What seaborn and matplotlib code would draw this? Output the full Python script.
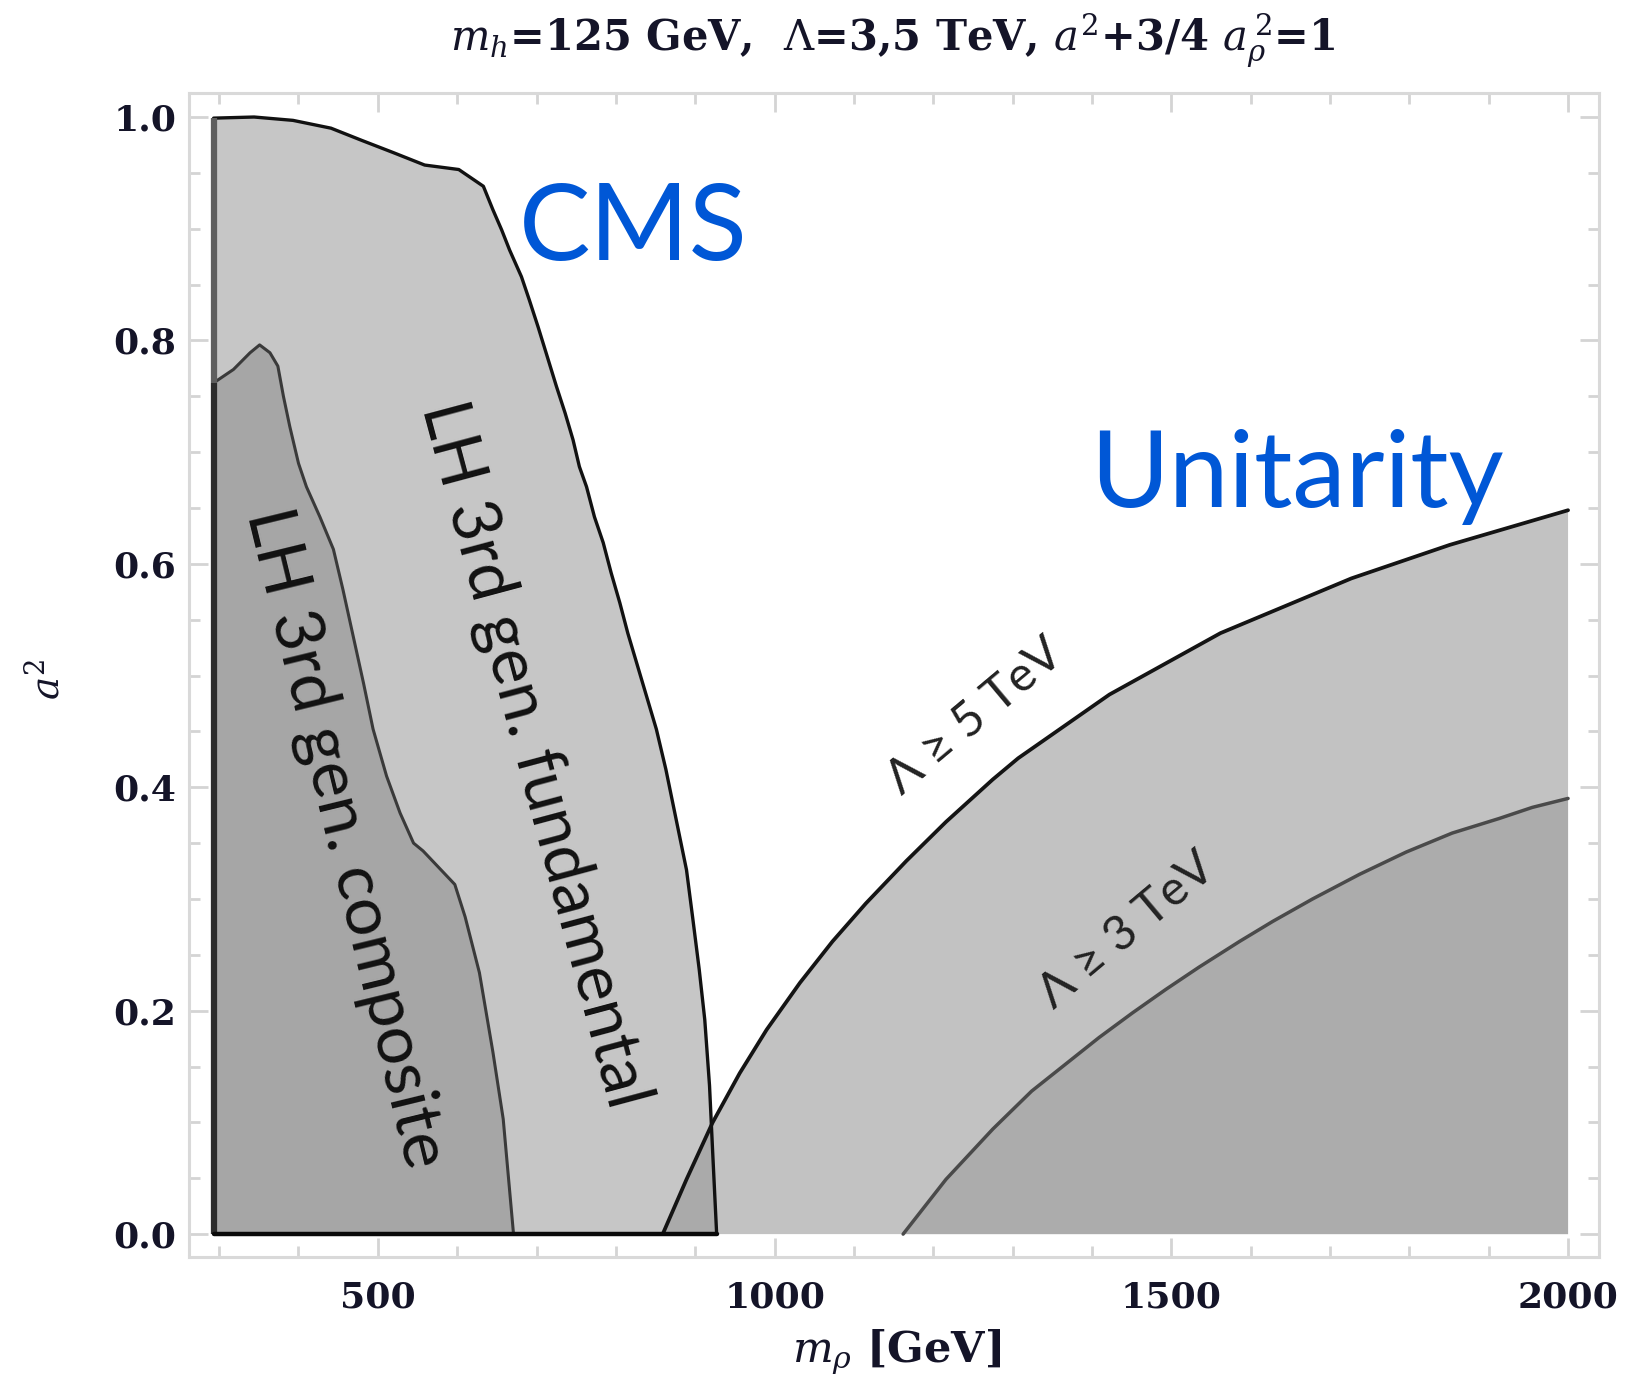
import numpy as np
import matplotlib
matplotlib.use("Agg")
import matplotlib.pyplot as plt
import seaborn as sns

# ---------------- data ----------------
# CMS bound, LH 3rd generation fundamental (outer region)
fund_x = [293, 344, 393, 441, 480, 520, 559, 602, 633, 645, 656, 666, 681, 691,
          702, 712, 725, 736, 746, 754, 763, 773, 784, 794, 805, 815, 851, 863,
          876, 889, 897, 905, 912, 918, 922, 927]
fund_y = [0.999, 1.0, 0.997, 0.990, 0.979, 0.968, 0.957, 0.953, 0.938, 0.917,
          0.899, 0.881, 0.857, 0.836, 0.812, 0.789, 0.759, 0.735, 0.711, 0.687,
          0.669, 0.642, 0.619, 0.592, 0.565, 0.538, 0.452, 0.416, 0.371, 0.326,
          0.282, 0.237, 0.192, 0.133, 0.073, 0.0]

# CMS bound, LH 3rd generation composite (inner region)
comp_x = [293, 318, 339, 351, 364, 374, 381, 389, 400, 410, 427, 444, 456, 469,
          482, 494, 511, 528, 545, 557, 597, 610, 628, 645, 658, 671]
comp_y = [0.762, 0.774, 0.789, 0.796, 0.789, 0.777, 0.750, 0.723, 0.690, 0.669,
          0.642, 0.613, 0.577, 0.535, 0.493, 0.452, 0.410, 0.377, 0.350, 0.343,
          0.313, 0.284, 0.234, 0.163, 0.103, 0.0]

# unitarity bound, Lambda >= 5 TeV
u5_x = [859, 889, 922, 956, 990, 1032, 1073, 1115, 1166, 1216, 1275, 1307, 1422,
        1562, 1727, 1851, 2000]
u5_y = [0.0, 0.049, 0.100, 0.144, 0.183, 0.225, 0.262, 0.296, 0.334, 0.369,
        0.407, 0.426, 0.483, 0.538, 0.587, 0.617, 0.648]

# unitarity bound, Lambda >= 3 TeV
u3_x = [1162, 1216, 1275, 1324, 1409, 1451, 1493, 1535, 1586, 1628, 1678, 1737,
        1796, 1854, 1913, 1955, 2000]
u3_y = [0.0, 0.049, 0.094, 0.128, 0.176, 0.198, 0.219, 0.239, 0.262, 0.280,
        0.300, 0.322, 0.342, 0.359, 0.372, 0.382, 0.390]

x_ticks = [500, 1000, 1500, 2000]
y_ticks = [0.0, 0.2, 0.4, 0.6, 0.8, 1.0]
y_ticklabels = ["0.0", "0.2", "0.4", "0.6", "0.8", "1.0"]

title = r"$m_h$=125 GeV,  $\Lambda$=3,5 TeV, $a^2$+3/4 $a_\rho^{\,2}$=1"
xlabel = r"$m_\rho$ [GeV]"
ylabel = r"$a^2$"

# ---------------- style ----------------
sns.set_theme(style="white")
plt.rcParams["font.family"] = ["DejaVu Serif"]
plt.rcParams["mathtext.fontset"] = "dejavuserif"

W, H = 1626, 1386
fig = plt.figure(figsize=(W / 100, H / 100), dpi=100)
ax = fig.add_axes([189 / W, 1 - 1257 / H, (1599 - 189) / W, (1257 - 93) / H])
ax.set_xlim(262, 2039)
ax.set_ylim(-0.0205, 1.0215)

# ---------------- fills ----------------
ax.fill(u5_x + [2000], u5_y + [0.0], color="#c2c2c2", lw=0, zorder=1)
ax.fill(u3_x + [2000], u3_y + [0.0], color="#acacac", lw=0, zorder=2)
ax.fill(fund_x + [293], fund_y + [0.0], color="#c6c6c6", lw=0, zorder=3)
ax.fill(comp_x + [293], comp_y + [0.0], color="#a6a6a6", lw=0, zorder=4)

# overlap of the CMS fundamental region with the unitarity region
fx = np.array(fund_x[7:])[::-1]
fy = np.array(fund_y[7:])[::-1]
yy = np.linspace(0, 0.2, 300)
xl = np.interp(yy, u5_y, u5_x)
xr = np.interp(yy, fy, fx)
ax.fill_betweenx(yy, xl, xr, where=xr > xl, color="#aaaaaa", lw=0, zorder=5)

# ---------------- boundary lines ----------------
sns.lineplot(x=fund_x, y=fund_y, sort=False, estimator=None, color="#111111",
             lw=2.4, ax=ax, zorder=6)
sns.lineplot(x=comp_x, y=comp_y, sort=False, estimator=None, color="#3a3a3a",
             lw=2.2, ax=ax, zorder=7)
sns.lineplot(x=u5_x, y=u5_y, sort=False, estimator=None, color="#141414",
             lw=2.7, ax=ax, zorder=6)
sns.lineplot(x=u3_x, y=u3_y, sort=False, estimator=None, color="#4a4a4a",
             lw=2.5, ax=ax, zorder=6)
# left edges and bottom edge of the CMS regions
ax.plot([fund_x[0], fund_x[0]], [comp_y[0], fund_y[0]], color="#5e5e5e", lw=4.5,
        zorder=8, solid_capstyle="butt")
ax.plot([comp_x[0], comp_x[0]], [0.0, comp_y[0]], color="#2c2c2c", lw=4.5,
        zorder=8, solid_capstyle="butt")
ax.plot([fund_x[0], fund_x[-1]], [0.0, 0.0], color="#0a0a0a", lw=3.2, zorder=8)

# ---------------- axes, ticks ----------------
for s in ax.spines.values():
    s.set_color("#d9d9d9")
    s.set_linewidth(2.2)
ax.set_xticks(x_ticks)
ax.set_xticks(np.arange(300, 2001, 100), minor=True)
ax.set_yticks(y_ticks)
ax.set_yticklabels(y_ticklabels)
ax.set_yticks(np.arange(0, 1.001, 0.05), minor=True)
ax.tick_params(which="both", direction="in", color="#d4d4d4", width=2.0,
               top=True, right=True, bottom=True, left=True)
ax.tick_params(which="major", length=14)
ax.tick_params(which="minor", length=8)
ax.tick_params(axis="x", which="major", labelsize=26, pad=17, labelcolor="#141428")
ax.tick_params(axis="y", which="major", labelsize=26, pad=9, labelcolor="#141428")
for lab in ax.get_xticklabels() + ax.get_yticklabels():
    lab.set_fontweight("bold")
ax.grid(False)

# ---------------- texts ----------------
fig.text(893 / W, 1 - 41 / H, title, ha="center", va="center", fontsize=30,
         fontweight="bold", color="#141428")
fig.text(897 / W, 1 - 1352 / H, xlabel, ha="center", va="center", fontsize=31,
         fontweight="bold", color="#141428")
fig.text(47 / W, 1 - 679 / H, ylabel, ha="center", va="center", fontsize=28,
         rotation=90, color="#141428")

blue = "#0057d6"
fig.text(633 / W, 1 - 260 / H, "CMS", ha="center", va="baseline", fontsize=77,
         family="Lato", color=blue)
fig.text(1297 / W, 1 - 507 / H, "Unitarity", ha="center", va="baseline",
         fontsize=77, family="Lato", color=blue)

fig.text(534 / W, 1 - 755 / H, "LH 3rd gen. fundamental", ha="center",
         va="center", rotation=-75, rotation_mode="anchor", fontsize=48,
         family="Lato", color="#111111")
fig.text(345 / W, 1 - 838 / H, "LH 3rd gen. composite", ha="center",
         va="center", rotation=-76.3, rotation_mode="anchor", fontsize=49,
         family="Lato", color="#111111")
fig.text(975 / W, 1 - 716 / H, "Λ ≥ 5 TeV", ha="center", va="center",
         rotation=40, rotation_mode="anchor", fontsize=35, family="Lato",
         color="#222222")
fig.text(1127 / W, 1 - 930 / H, "Λ ≥ 3 TeV", ha="center", va="center",
         rotation=40, rotation_mode="anchor", fontsize=35, family="Lato",
         color="#222222")

fig.savefig("out.png", dpi=100)
